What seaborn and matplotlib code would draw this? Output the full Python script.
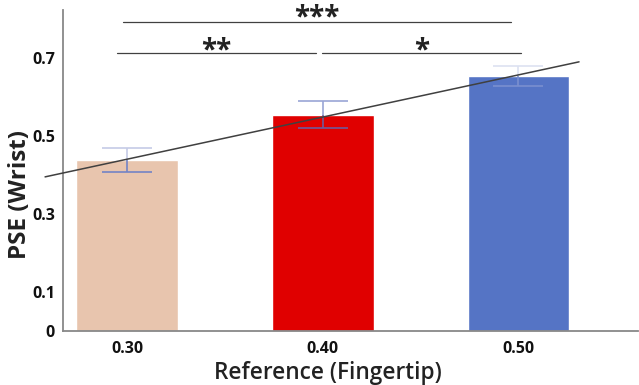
import matplotlib
matplotlib.use("Agg")
import matplotlib.pyplot as plt
import numpy as np
import pandas as pd
import seaborn as sns

sns.set_theme(style="white")
plt.rcParams['font.family'] = ['Open Sans', 'DejaVu Sans']

# data
references = ["0.30", "0.40", "0.50"]
pse = [0.438, 0.554, 0.654]
err_low = [0.030, 0.034, 0.026]
err_high = [0.031, 0.036, 0.025]
bar_colors = ["#E8C5AE", "#E00000", "#5574C5"]
err_up_colors = ["#C5CBE6", "#9AA5D6", "#DDE2F1"]
err_lo_colors = ["#7384C6", "#6E5A9C", "#7A8FCF"]
yticks = [0, 0.1, 0.3, 0.5, 0.7]

# significance lines: (x start, x end, line y, label, label baseline y)
sig_lines = [(-0.05, 0.965, 0.713, "**", 0.699),
             (0.995, 2.015, 0.713, "*", 0.699),
             (-0.02, 1.96, 0.792, "***", 0.7846)]

df = pd.DataFrame({"ref": references, "pse": pse})

fig = plt.figure(figsize=(6.39, 3.85), dpi=100)
ax = fig.add_axes([0.099, 0.140, 0.899, 0.834])

sns.barplot(data=df, x="ref", y="pse", hue="ref", palette=bar_colors,
            width=0.52, legend=False, ax=ax, errorbar=None, saturation=1)

# error bars: light upper half, darker lower half
xpos = np.arange(len(references))
cap = 0.128
top = np.array(pse) + np.array(err_high)
bot = np.array(pse) - np.array(err_low)
for i in range(len(references)):
    ax.vlines(xpos[i], pse[i], top[i], color=err_up_colors[i], lw=1.2, zorder=3)
    ax.hlines(top[i], xpos[i] - cap, xpos[i] + cap, color=err_up_colors[i], lw=1.2, zorder=3)
    ax.vlines(xpos[i], bot[i], pse[i], color=err_lo_colors[i], lw=1.2, zorder=3)
    ax.hlines(bot[i], xpos[i] - cap, xpos[i] + cap, color=err_lo_colors[i], lw=1.2, zorder=3)

# linear trend over the bar means
slope, intercept = np.polyfit(xpos, pse, 1)
xl = np.array([-0.42, 2.31])
ax.plot(xl, intercept + slope * xl, color="#404040", lw=1.1, clip_on=False, zorder=4)

# significance lines
for lo, hi, y, lab, ty in sig_lines:
    ax.plot([lo, hi], [y, y], color="#404040", lw=0.9, clip_on=False)
    ax.text((lo + hi) / 2, ty, lab, ha="center", va="baseline",
            fontsize=20, fontweight="bold", color="#222222", clip_on=False)

ax.set_xlim(-0.327, 2.61)
ax.set_ylim(0, 0.823)
ax.set_yticks(yticks)
ax.set_yticklabels([("%g" % t) for t in yticks])
ax.tick_params(axis="x", length=0, labelsize=11.5, pad=7)
ax.tick_params(axis="y", length=0, labelsize=11.5, pad=6)
for lab in ax.get_xticklabels() + ax.get_yticklabels():
    lab.set_fontweight("bold")
    lab.set_color("#111111")

ax.set_xlabel("Reference (Fingertip)", fontsize=16.3, fontweight="semibold", color="#222222")
ax.set_ylabel("PSE (Wrist)", fontsize=17.5, fontweight="bold", color="#222222")
ax.xaxis.set_label_coords(0.461, -0.094)
ax.yaxis.set_label_coords(-0.054, 0.424)

sns.despine(ax=ax)
for s in ["left", "bottom"]:
    ax.spines[s].set_color("#888888")
    ax.spines[s].set_linewidth(1.3)

fig.savefig("out.png", dpi=100)
